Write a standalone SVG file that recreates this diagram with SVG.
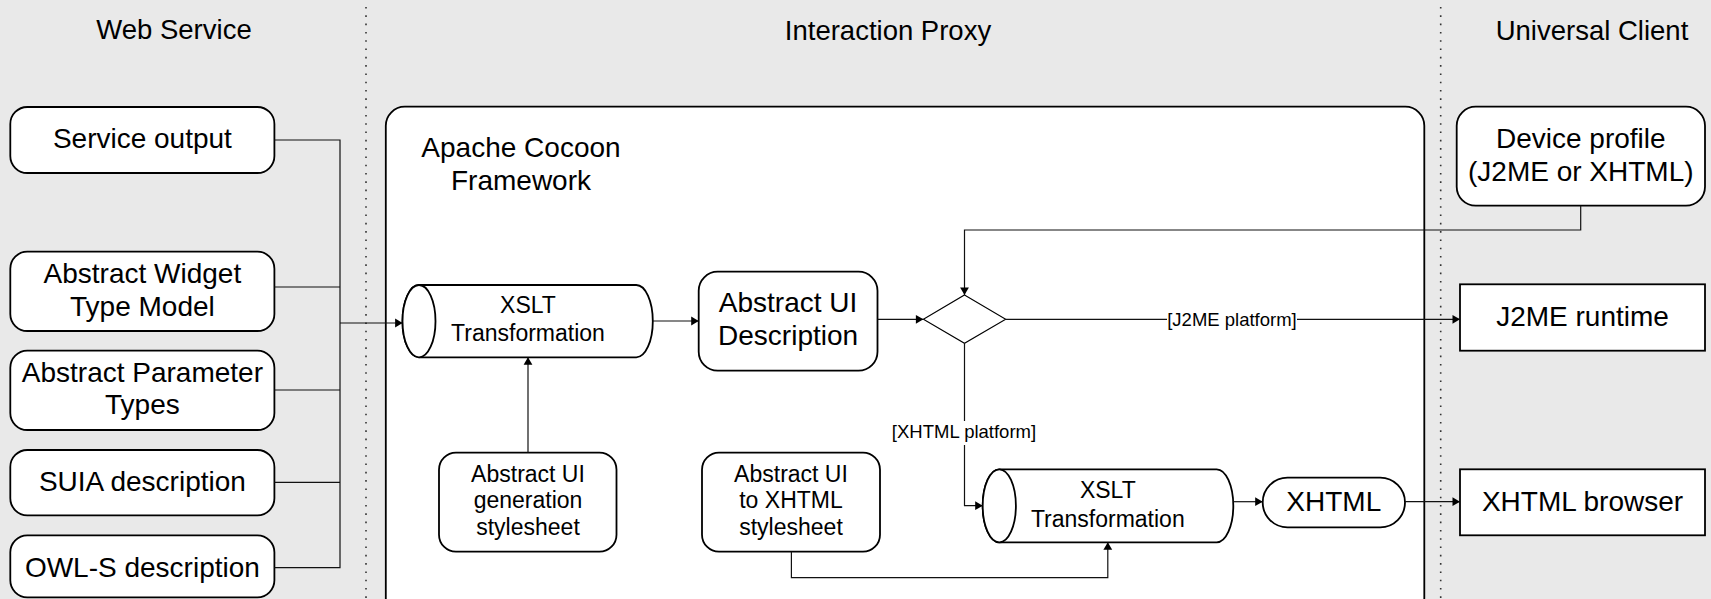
<svg xmlns="http://www.w3.org/2000/svg" width="1711" height="599" viewBox="0 0 1711 599">
<defs>
<marker id="arr" markerUnits="userSpaceOnUse" markerWidth="10" markerHeight="10" refX="8" refY="5" orient="auto">
<path d="M0.5,0.6 L8,5 L0.5,9.4 Z" fill="#000"/>
</marker>
<style>
text{font-family:"Liberation Sans",Arial,sans-serif;fill:#000;text-anchor:middle}
.t{font-size:27.5px}
.b{font-size:28px}
.s{font-size:23px}
.l{font-size:18.5px}
.box{fill:#fff;stroke:#000;stroke-width:1.8}
.thin{fill:#fff;stroke:#000;stroke-width:1.1}
.c{fill:none;stroke:#111;stroke-width:1.2}
.a{fill:none;stroke:#111;stroke-width:1.2;marker-end:url(#arr)}
.sep{stroke:#333;stroke-width:1.6;stroke-dasharray:1.6,6.7}
</style>
</defs>
<rect x="0" y="0" width="1711" height="599" fill="#e9e9e9"/>
<g id="lanes">
<line class="sep" x1="366" y1="7" x2="366" y2="599"/>
<line class="sep" x1="1440.7" y1="7" x2="1440.7" y2="599"/>
<text class="t" x="174" y="39">Web Service</text>
<text class="t" x="888" y="40">Interaction Proxy</text>
<text class="t" x="1592" y="40">Universal Client</text>
</g>
<g id="cocoon">
<rect class="box" x="385.8" y="106.7" width="1038.5" height="510" rx="19"/>
<text class="b" x="521" y="157">Apache Cocoon</text>
<text class="b" x="521" y="190">Framework</text>
</g>
<g id="service-output">
<rect class="box" x="10.3" y="107" width="264.1" height="66" rx="17"/>
<text class="b" x="142.4" y="148">Service output</text>
</g>
<g id="widget-model">
<rect class="box" x="10.3" y="251.7" width="264.1" height="79.3" rx="17"/>
<text class="b" x="142.4" y="282.7">Abstract Widget</text>
<text class="b" x="142.4" y="316">Type Model</text>
</g>
<g id="param-types">
<rect class="box" x="10.3" y="350.7" width="264.1" height="79.3" rx="17"/>
<text class="b" x="142.4" y="381.7">Abstract Parameter</text>
<text class="b" x="142.4" y="413.5">Types</text>
</g>
<g id="suia">
<rect class="box" x="10.3" y="450" width="264.1" height="65.3" rx="17"/>
<text class="b" x="142.4" y="490.7">SUIA description</text>
</g>
<g id="owls">
<rect class="box" x="10.3" y="535.3" width="264.1" height="62" rx="17"/>
<text class="b" x="142.4" y="576.7">OWL-S description</text>
</g>
<g id="xslt1">
<path class="box" d="M419,285 H636.3 A16.5,36.15 0 0 1 636.3,357.3 H419 A16.5,36.15 0 0 1 419,285 Z"/>
<ellipse class="box" cx="419" cy="321.15" rx="16.5" ry="36.15"/>
<text class="s" x="528" y="313">XSLT</text>
<text class="s" x="528" y="340.7">Transformation</text>
</g>
<g id="gen-stylesheet">
<rect class="box" x="439" y="452.7" width="177.5" height="99" rx="17"/>
<text class="s" x="528" y="481.7">Abstract UI</text>
<text class="s" x="528" y="508.3">generation</text>
<text class="s" x="528" y="535">stylesheet</text>
</g>
<g id="aui-desc">
<rect class="box" x="698.7" y="271.7" width="178.8" height="99" rx="19"/>
<text class="b" x="788.1" y="312">Abstract UI</text>
<text class="b" x="788.1" y="345">Description</text>
</g>
<g id="decision">
<polygon class="thin" points="964.5,295 1005.7,319.3 964.5,343.3 923.4,319.3"/>
</g>
<g id="xhtml-stylesheet">
<rect class="box" x="702" y="452.7" width="178" height="99" rx="17"/>
<text class="s" x="791" y="481.7">Abstract UI</text>
<text class="s" x="791" y="508.3">to XHTML</text>
<text class="s" x="791" y="535">stylesheet</text>
</g>
<g id="xslt2">
<path class="box" d="M999.3,469.3 H1216.7 A16.6,36.5 0 0 1 1216.7,542.3 H999.3 A16.6,36.5 0 0 1 999.3,469.3 Z"/>
<ellipse class="box" cx="999.3" cy="505.8" rx="16.6" ry="36.5"/>
<text class="s" x="1107.8" y="498.3">XSLT</text>
<text class="s" x="1107.8" y="526.7">Transformation</text>
</g>
<g id="xhtml">
<rect class="box" x="1262.7" y="477.7" width="142.3" height="49.6" rx="24.8"/>
<text class="b" x="1333.8" y="510.7">XHTML</text>
</g>
<g id="device-profile">
<rect class="box" x="1456.7" y="106.7" width="248.3" height="99" rx="19"/>
<text class="b" x="1580.8" y="147.7">Device profile</text>
<text class="b" x="1580.8" y="181">(J2ME or XHTML)</text>
</g>
<g id="j2me-runtime">
<rect class="box" x="1460" y="284.3" width="245" height="66.4"/>
<text class="b" x="1582.5" y="326">J2ME runtime</text>
</g>
<g id="xhtml-browser">
<rect class="box" x="1460" y="469.3" width="245" height="66"/>
<text class="b" x="1582.5" y="510.7">XHTML browser</text>
</g>
<g id="connectors">
<polyline class="c" points="274.4,140 340,140 340,567.7 274.4,567.7"/>
<line class="c" x1="274.4" y1="287" x2="340" y2="287"/>
<line class="c" x1="274.4" y1="390" x2="340" y2="390"/>
<line class="c" x1="274.4" y1="482.3" x2="340" y2="482.3"/>
<line class="a" x1="340" y1="323" x2="402.6" y2="323"/>
<line class="a" x1="528" y1="452.7" x2="528" y2="357.3"/>
<line class="a" x1="652.8" y1="321" x2="698.7" y2="321"/>
<line class="a" x1="877.5" y1="319.3" x2="923.4" y2="319.3"/>
<polyline class="a" points="1580.7,205.7 1580.7,230 964.5,230 964.5,295"/>
<line class="a" x1="1005.7" y1="319.3" x2="1460" y2="319.3"/>
<rect x="1167" y="306" width="130" height="24" fill="#fff"/>
<text class="l" x="1232" y="325.5">[J2ME platform]</text>
<polyline class="a" points="964.5,343.3 964.5,505.7 982.7,505.7"/>
<rect x="891" y="421" width="146" height="24" fill="#fff"/>
<text class="l" x="964" y="438.3">[XHTML platform]</text>
<polyline class="a" points="791.4,551.7 791.4,577.7 1107.8,577.7 1107.8,542.3"/>
<line class="a" x1="1233.3" y1="501.7" x2="1262.7" y2="501.7"/>
<line class="a" x1="1405" y1="501.7" x2="1460" y2="501.7"/>
</g>
</svg>
